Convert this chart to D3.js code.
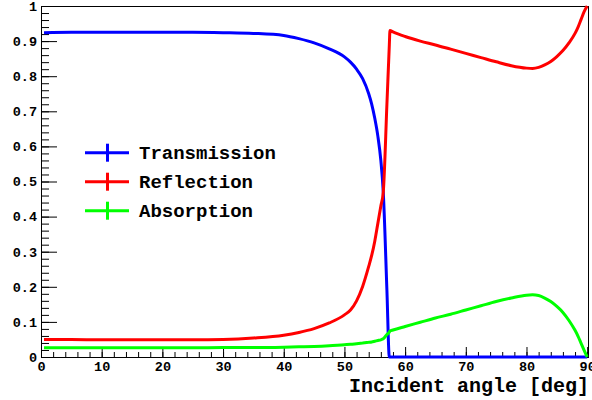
<!DOCTYPE html>
<html>
<head>
<meta charset="utf-8">
<script src="https://cdn.jsdelivr.net/npm/d3@7"></script>
<style>
  html, body { margin: 0; padding: 0; background: #fff; }
  svg { display: block; }
  text { font-family: "Liberation Mono", "Courier New", monospace; font-weight: bold; }
</style>
</head>
<body>
<svg id="chart" width="592" height="400"></svg>
<script>
// incident angle in degrees
const angles = [0.5, 5, 10, 15, 20, 25, 30, 35, 40, 42.5, 45, 47.5, 50, 51, 52, 53, 54, 54.5, 55, 55.5, 56, 56.4, 57, 57.4, 57.5, 58, 60, 62.5, 65, 67.5, 70, 72.5, 75, 77.5, 80, 81, 82, 83, 84, 85, 86, 87, 88, 88.5, 89, 89.5, 90];

const transmission = [0.924, 0.925, 0.925, 0.925, 0.925, 0.925, 0.924, 0.922, 0.916, 0.907, 0.895, 0.878, 0.855, 0.84, 0.82, 0.793, 0.75, 0.72, 0.68, 0.63, 0.56, 0.47, 0.19, 0, 0, 0, 0, 0, 0, 0, 0, 0, 0, 0, 0, 0, 0, 0, 0, 0, 0, 0, 0, 0, 0, 0, 0];

const reflection = [0.050, 0.050, 0.049, 0.049, 0.049, 0.049, 0.050, 0.054, 0.062, 0.070, 0.081, 0.097, 0.120, 0.134, 0.160, 0.201, 0.258, 0.29, 0.33, 0.38, 0.43, 0.47, 0.72, 0.89, 0.93, 0.926, 0.913, 0.90, 0.889, 0.877, 0.865, 0.853, 0.841, 0.83, 0.823, 0.822, 0.825, 0.832, 0.842, 0.856, 0.873, 0.895, 0.922, 0.94, 0.962, 0.984, 1.0];

const absorption = [0.026, 0.026, 0.026, 0.026, 0.026, 0.026, 0.027, 0.027, 0.028, 0.029, 0.030, 0.032, 0.035, 0.036, 0.038, 0.040, 0.042, 0.043, 0.045, 0.047, 0.049, 0.052, 0.064, 0.071, 0.074, 0.077, 0.087, 0.099, 0.111, 0.122, 0.134, 0.146, 0.158, 0.168, 0.176, 0.177, 0.175, 0.168, 0.158, 0.144, 0.127, 0.104, 0.076, 0.059, 0.039, 0.019, 0.0];

const seriesNames = ["Transmission", "Reflection", "Absorption"];
const seriesColors = ["#0000ff", "#ff0000", "#00ff00"];
const seriesValues = [transmission, reflection, absorption];

const xTicks = [0, 10, 20, 30, 40, 50, 60, 70, 80, 90];
const yTicks = [0, 0.1, 0.2, 0.3, 0.4, 0.5, 0.6, 0.7, 0.8, 0.9, 1];
const xTitle = "Incident angle [deg]";

const svg = d3.select("#chart");

// frame box in pixels (ROOT-like pad)
const frameL = 41, frameR = 589, frameT = 6, frameB = 357;

const x = d3.scaleLinear().domain([0, 90.3]).range([frameL, frameR]);
const y = d3.scaleLinear().domain([0, 1]).range([frameB, frameT]);

const fmtY = d => d === 0 ? "0" : d === 1 ? "1" : d3.format(".1f")(d);

function styleLabels(g) {
  g.selectAll("text")
    .attr("font-family", "Liberation Mono, Courier New, monospace")
    .attr("font-weight", "bold")
    .attr("font-size", 13.5)
    .attr("fill", "#000");
}

// minor ticks
svg.append("g")
  .attr("transform", `translate(0,${frameB})`)
  .call(d3.axisBottom(x).tickValues(d3.range(0, 91, 2)).tickSize(-5).tickFormat(""))
  .call(g => g.select(".domain").remove());

svg.append("g")
  .attr("transform", `translate(${frameL},0)`)
  .call(d3.axisLeft(y).tickValues(d3.range(0, 1.001, 0.02)).tickSize(-8).tickFormat(""))
  .call(g => g.select(".domain").remove());

// major ticks + labels
svg.append("g")
  .attr("transform", `translate(0,${frameB})`)
  .call(d3.axisBottom(x).tickValues(xTicks).tickSize(-10).tickPadding(4.5).tickFormat(d3.format("d")))
  .call(g => g.select(".domain").remove())
  .call(styleLabels);

svg.append("g")
  .attr("transform", `translate(${frameL},0)`)
  .call(d3.axisLeft(y).tickValues(yTicks).tickSize(-16).tickPadding(4).tickFormat(fmtY))
  .call(g => g.select(".domain").remove())
  .call(styleLabels);

svg.selectAll(".tick line").attr("stroke", "#000").attr("stroke-width", 1);

// frame
svg.append("rect")
  .attr("x", frameL + 0.5)
  .attr("y", frameT + 0.5)
  .attr("width", frameR - frameL - 1)
  .attr("height", frameB - frameT)
  .attr("fill", "none")
  .attr("stroke", "#000")
  .attr("stroke-width", 1);

// curves
const line = d3.line()
  .x(d => x(d[0]))
  .y(d => y(d[1]))
  .curve(d3.curveMonotoneX);

seriesValues.forEach((vals, i) => {
  svg.append("path")
    .datum(angles.map((a, k) => [a, vals[k]]))
    .attr("d", line)
    .attr("fill", "none")
    .attr("stroke", seriesColors[i])
    .attr("stroke-width", 3)
    .attr("stroke-linejoin", "round");
});

// x title
svg.append("text")
  .attr("x", frameR)
  .attr("y", 392)
  .attr("text-anchor", "end")
  .attr("font-size", 20)
  .attr("fill", "#000")
  .text(xTitle);

// legend
const legend = svg.append("g");
seriesNames.forEach((name, i) => {
  const ly = 152.7 + i * 29;
  const row = legend.append("g");
  row.append("line")
    .attr("x1", 85).attr("x2", 129)
    .attr("y1", ly).attr("y2", ly)
    .attr("stroke", seriesColors[i]).attr("stroke-width", 3);
  row.append("line")
    .attr("x1", 107.5).attr("x2", 107.5)
    .attr("y1", ly - 9).attr("y2", ly + 9)
    .attr("stroke", seriesColors[i]).attr("stroke-width", 3);
  row.append("text")
    .attr("x", 139)
    .attr("y", ly + 6.5)
    .attr("font-size", 19)
    .attr("fill", "#000")
    .text(name);
});
</script>
</body>
</html>
